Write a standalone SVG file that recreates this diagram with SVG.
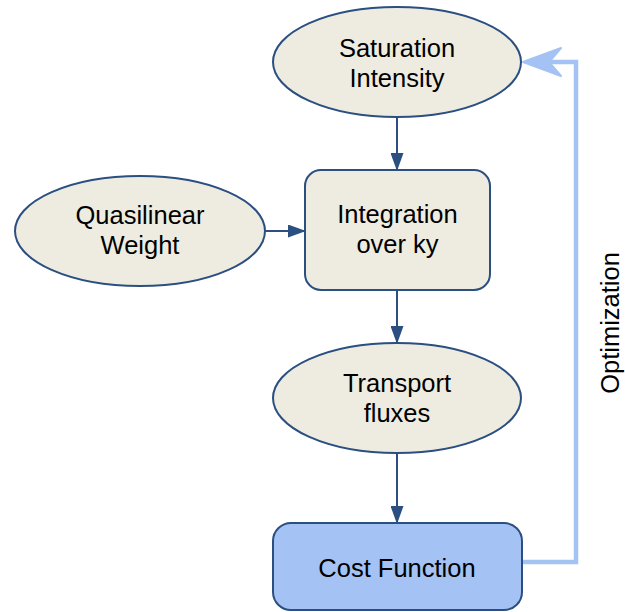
<svg xmlns="http://www.w3.org/2000/svg" width="625" height="612" viewBox="0 0 625 612">
<defs>
<style>
.node{fill:#eeece1;stroke:#2a4f80;stroke-width:2}
.cost{fill:#a4c2f4;stroke:#2a4f80;stroke-width:2}
.lbl{font-family:"Liberation Sans",Arial,sans-serif;font-size:25.5px;fill:#000;text-anchor:middle}
.edge{stroke:#2a4f80;stroke-width:2;fill:none}
.fb{stroke:#a4c2f4;stroke-width:4.5;fill:none}
</style>
<marker id="ah" viewBox="0 0 18 13" refX="17" refY="6.5" markerWidth="18" markerHeight="13" markerUnits="userSpaceOnUse" orient="auto">
<path d="M0,0 L18,6.5 L0,13 z" fill="#2a4f80"/>
</marker>
</defs>
<rect width="625" height="612" fill="#ffffff"/>
<g id="connectors">
<line class="edge" x1="397" y1="117" x2="397" y2="170" marker-end="url(#ah)"/>
<line class="edge" x1="265" y1="231" x2="305" y2="231" marker-end="url(#ah)"/>
<line class="edge" x1="397" y1="290" x2="397" y2="343" marker-end="url(#ah)"/>
<line class="edge" x1="397" y1="452" x2="397" y2="523" marker-end="url(#ah)"/>
<polyline class="fb" points="522,562 576,562 576,62 550,62"/>
<polygon points="523,62 561,48 549,62 561,76" fill="#a4c2f4" stroke="#a4c2f4" stroke-width="2" stroke-linejoin="round"/>
</g>
<g id="saturation">
<ellipse class="node" cx="397" cy="62" rx="124" ry="55"/>
<text class="lbl" x="397" y="57">Saturation</text>
<text class="lbl" x="397" y="87">Intensity</text>
</g>
<g id="quasilinear">
<ellipse class="node" cx="140" cy="231" rx="125" ry="55"/>
<text class="lbl" x="140" y="224">Quasilinear</text>
<text class="lbl" x="140" y="254">Weight</text>
</g>
<g id="integration">
<rect class="node" x="305" y="170" width="185" height="120" rx="16"/>
<text class="lbl" x="397.5" y="223">Integration</text>
<text class="lbl" x="397.5" y="253">over ky</text>
</g>
<g id="transport">
<ellipse class="node" cx="397" cy="398" rx="124" ry="55"/>
<text class="lbl" x="397" y="392">Transport</text>
<text class="lbl" x="397" y="422">fluxes</text>
</g>
<g id="cost">
<rect class="cost" x="273" y="523" width="249" height="87" rx="18"/>
<text class="lbl" x="397" y="577">Cost Function</text>
</g>
<g id="optimization-label">
<text class="lbl" transform="translate(619,323) rotate(-90)">Optimization</text>
</g>
</svg>
